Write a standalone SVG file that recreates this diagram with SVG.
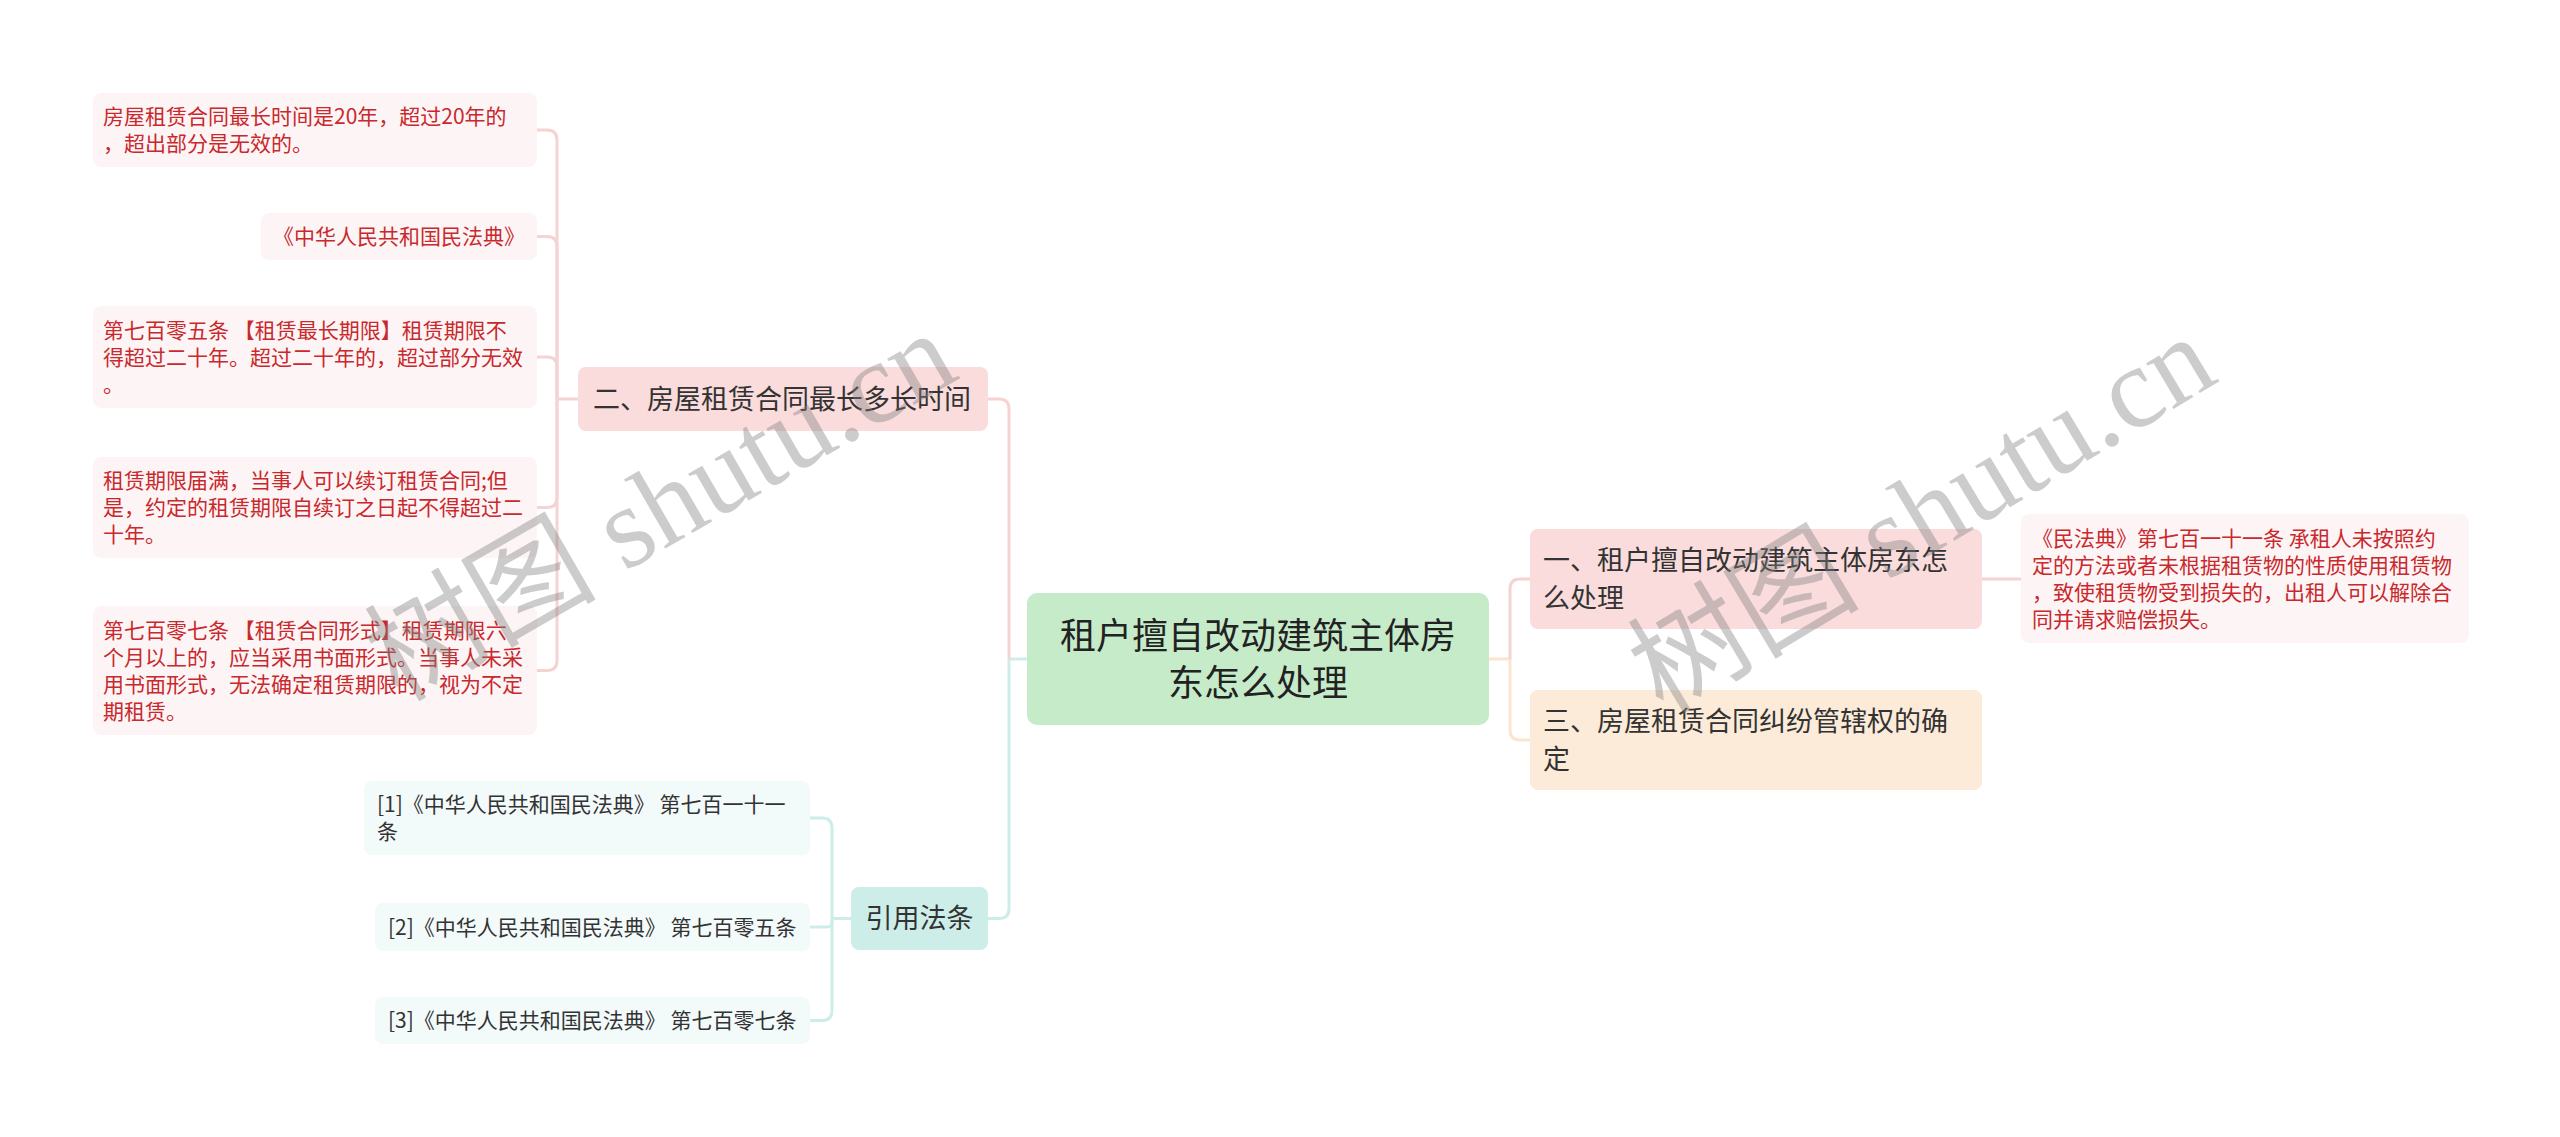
<svg xmlns="http://www.w3.org/2000/svg" width="2560" height="1137" viewBox="0 0 2560 1137">
<style>
text{font-family:"Noto Sans CJK SC","Liberation Sans",sans-serif;}
.root{fill:#c6ebc9;}
.pink{fill:#fadcdc;}
.peach{fill:#fdebd9;}
.teal{fill:#cdeee8;}
.leafr{fill:#fdf5f5;}
.leafc{fill:#f3fafa;}
.t36{font-size:36px;fill:#222;}
.t27{font-size:27px;fill:#333;}
.tr{font-size:21px;fill:#c9282d;}
.tc{font-size:21px;fill:#333;}
.c{fill:none;stroke-width:3;}
.cp{stroke:#f6d3d3;}
.ct{stroke:#cdeee8;}
.co{stroke:#fde4cf;}
.wm{font-family:"Liberation Serif","Noto Sans CJK SC",serif;font-size:116px;fill:#808080;fill-opacity:0.4;}
</style>
<rect width="2560" height="1137" fill="#ffffff"/>
<g id="connectors">
<path class="c ct" d="M1027 659 H1009"/>
<path class="c cp" d="M1009 659 V409 Q1009 399 999 399 H988"/>
<path class="c ct" d="M1009 659 V908.5 Q1009 918.5 999 918.5 H988"/>
<path class="c co" d="M1489 659 H1510"/>
<path class="c cp" d="M1510 659 V589 Q1510 579 1520 579 H1530"/>
<path class="c co" d="M1510 659 V730 Q1510 740 1520 740 H1530"/>
<path class="c cp" d="M578 399 H557"/>
<path class="c cp" d="M557 399 V140 Q557 130 547 130 H537"/>
<path class="c cp" d="M557 399 V246.5 Q557 236.5 547 236.5 H537"/>
<path class="c cp" d="M557 399 V367 Q557 357 547 357 H537"/>
<path class="c cp" d="M557 399 V497.5 Q557 507.5 547 507.5 H537"/>
<path class="c cp" d="M557 399 V660.5 Q557 670.5 547 670.5 H537"/>
<path class="c ct" d="M851 918.5 H832"/>
<path class="c ct" d="M832 918.5 V828 Q832 818 822 818 H810"/>
<path class="c ct" d="M832 918.5 V922 Q832 927 827 927 H810"/>
<path class="c ct" d="M832 918.5 V1010.5 Q832 1020.5 822 1020.5 H810"/>
<path class="c cp" d="M1982 579 H2021"/>
</g>
<g id="root">
<rect class="root" x="1027" y="593" width="462" height="132" rx="10"/>
<text class="t36" x="1258" y="649" text-anchor="middle">租户擅自改动建筑主体房</text>
<text class="t36" x="1258" y="696" text-anchor="middle">东怎么处理</text>
</g>
<g id="n2">
<rect class="pink" x="578" y="367" width="410" height="64" rx="8"/>
<text class="t27" x="593" y="408.5">二、房屋租赁合同最长多长时间</text>
</g>
<g id="n2-1">
<rect class="leafr" x="93" y="93" width="444" height="74" rx="8"/>
<text class="tr" x="103" y="124">房屋租赁合同最长时间是20年，超过20年的</text>
<text class="tr" x="103" y="151">，超出部分是无效的。</text>
</g>
<g id="n2-2">
<rect class="leafr" x="261" y="213" width="276" height="47" rx="8"/>
<text class="tr" x="273" y="244">《中华人民共和国民法典》</text>
</g>
<g id="n2-3">
<rect class="leafr" x="93" y="306" width="444" height="102" rx="8"/>
<text class="tr" x="103" y="337.5">第七百零五条 【租赁最长期限】租赁期限不</text>
<text class="tr" x="103" y="364.5">得超过二十年。超过二十年的，超过部分无效</text>
<text class="tr" x="103" y="391.5">。</text>
</g>
<g id="n2-4">
<rect class="leafr" x="93" y="457" width="444" height="101" rx="8"/>
<text class="tr" x="103" y="488">租赁期限届满，当事人可以续订租赁合同;但</text>
<text class="tr" x="103" y="515">是，约定的租赁期限自续订之日起不得超过二</text>
<text class="tr" x="103" y="542">十年。</text>
</g>
<g id="n2-5">
<rect class="leafr" x="93" y="606" width="444" height="129" rx="8"/>
<text class="tr" x="103" y="637.5">第七百零七条 【租赁合同形式】租赁期限六</text>
<text class="tr" x="103" y="664.5">个月以上的，应当采用书面形式。当事人未采</text>
<text class="tr" x="103" y="691.5">用书面形式，无法确定租赁期限的，视为不定</text>
<text class="tr" x="103" y="718.5">期租赁。</text>
</g>
<g id="ref">
<rect class="teal" x="851" y="887" width="137" height="63" rx="8"/>
<text class="t27" x="919.5" y="928" text-anchor="middle">引用法条</text>
</g>
<g id="ref-1">
<rect class="leafc" x="364" y="781" width="446" height="74" rx="8"/>
<text class="tc" x="377" y="812">[1]《中华人民共和国民法典》 第七百一十一</text>
<text class="tc" x="377" y="839">条</text>
</g>
<g id="ref-2">
<rect class="leafc" x="375" y="903" width="435" height="48" rx="8"/>
<text class="tc" x="388" y="934.5">[2]《中华人民共和国民法典》 第七百零五条</text>
</g>
<g id="ref-3">
<rect class="leafc" x="375" y="997" width="435" height="47" rx="8"/>
<text class="tc" x="388" y="1028">[3]《中华人民共和国民法典》 第七百零七条</text>
</g>
<g id="n1">
<rect class="pink" x="1530" y="529" width="452" height="100" rx="8"/>
<text class="t27" x="1543" y="569.5">一、租户擅自改动建筑主体房东怎</text>
<text class="t27" x="1543" y="607.5">么处理</text>
</g>
<g id="n1-1">
<rect class="leafr" x="2021" y="514" width="448" height="129" rx="8"/>
<text class="tr" x="2032" y="545.5">《民法典》第七百一十一条 承租人未按照约</text>
<text class="tr" x="2032" y="572.5">定的方法或者未根据租赁物的性质使用租赁物</text>
<text class="tr" x="2032" y="599.5">，致使租赁物受到损失的，出租人可以解除合</text>
<text class="tr" x="2032" y="626.5">同并请求赔偿损失。</text>
</g>
<g id="n3">
<rect class="peach" x="1530" y="690" width="452" height="100" rx="8"/>
<text class="t27" x="1543" y="730.5">三、房屋租赁合同纠纷管辖权的确</text>
<text class="t27" x="1543" y="768.5">定</text>
</g>
<g id="watermark">
<text class="wm" x="0" y="0" text-anchor="middle" transform="translate(680 540) rotate(-30)">树图 shutu.cn</text>
<text class="wm" x="0" y="0" text-anchor="middle" transform="translate(1942 548) rotate(-31)">树图 shutu.cn</text>
</g>
</svg>
